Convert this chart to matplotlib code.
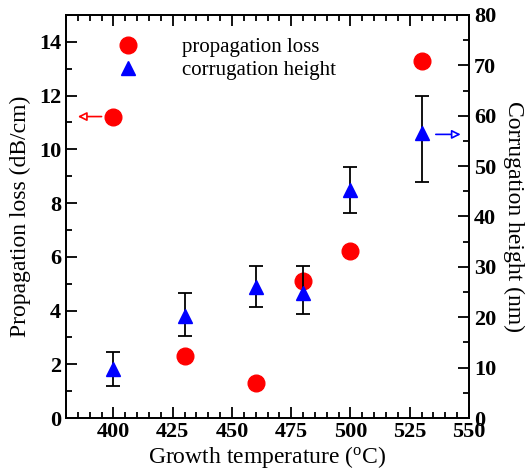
import numpy as np
import matplotlib.pyplot as plt
from matplotlib.ticker import MultipleLocator

plt.rcParams['font.family'] = ['Liberation Serif', 'DejaVu Serif']

# growth temperatures (C)
temps_loss = [400, 430, 460, 480, 500, 530]
loss = [11.2, 2.3, 1.3, 5.1, 6.2, 13.3]  # dB/cm

temps_corr = [400, 430, 460, 480, 500, 530]
corr = [9.7, 20.3, 26.1, 24.9, 45.2, 56.5]  # nm
corr_err_lo = [3.3, 4.0, 4.0, 4.3, 4.6, 9.6]
corr_err_hi = [3.4, 4.5, 4.0, 5.3, 4.7, 7.5]

fig = plt.figure(figsize=(5.32, 4.72), dpi=100)
ax1 = fig.add_axes([66/532, 1 - 418/472, 403/532, 403/472])
ax2 = ax1.twinx()

h2 = ax2.errorbar(temps_corr, corr, yerr=[corr_err_lo, corr_err_hi], fmt='^', color='blue',
                  ecolor='black', elinewidth=1.3, capsize=5, capthick=1.3, markersize=10,
                  label='corrugation height', zorder=3)
h1, = ax1.plot(temps_loss, loss, 'o', color='red', markersize=12, label='propagation loss')

ax1.set_xlim(380, 550)
ax1.set_ylim(0, 15)
ax2.set_ylim(0, 80)
ax1.xaxis.set_major_locator(MultipleLocator(25))
ax1.xaxis.set_minor_locator(MultipleLocator(5))
ax1.yaxis.set_major_locator(MultipleLocator(2))
ax1.yaxis.set_minor_locator(MultipleLocator(1))
ax2.yaxis.set_major_locator(MultipleLocator(10))
ax2.yaxis.set_minor_locator(MultipleLocator(5))

ax1.tick_params(which='both', direction='in', top=True, right=False, labelsize=16, width=1.3)
ax1.tick_params(which='major', length=8)
ax1.tick_params(which='minor', length=4)
ax1.tick_params(axis='x', pad=3)
ax2.tick_params(which='both', direction='in', labelsize=16, width=1.3)
ax2.tick_params(which='major', length=8)
ax2.tick_params(which='minor', length=4)
for a in (ax1, ax2):
    for s in a.spines.values():
        s.set_linewidth(1.3)
    for lab in a.get_xticklabels() + a.get_yticklabels():
        lab.set_fontweight('bold')

ax1.set_xlabel('Growth temperature ($\\mathregular{^oC}$)', fontsize=17, labelpad=1)
ax1.set_ylabel('Propagation loss (dB/cm)', fontsize=17, labelpad=6)
ax2.set_ylabel('Corrugation height (nm)', fontsize=17, rotation=270, labelpad=20)

# arrows pointing to the axes
ax1.annotate('', xy=(385, 11.22), xytext=(395, 11.22),
             arrowprops=dict(arrowstyle='-|>', color='red', fc='white', lw=1.2,
                             mutation_scale=13, shrinkA=0, shrinkB=0),
             annotation_clip=False)
ax2.annotate('', xy=(546.5, 56.3), xytext=(536, 56.3),
             arrowprops=dict(arrowstyle='-|>', color='blue', fc='white', lw=1.2,
                             mutation_scale=13, shrinkA=0, shrinkB=0),
             annotation_clip=False)

ax1.legend([h1, h2[0]], ['propagation loss', 'corrugation height'], loc='upper left',
           bbox_to_anchor=(0.07, 0.975), frameon=False, fontsize=15, handletextpad=1.6,
           borderaxespad=0.2, labelspacing=0.15)

fig.savefig('out.png', dpi=100)
